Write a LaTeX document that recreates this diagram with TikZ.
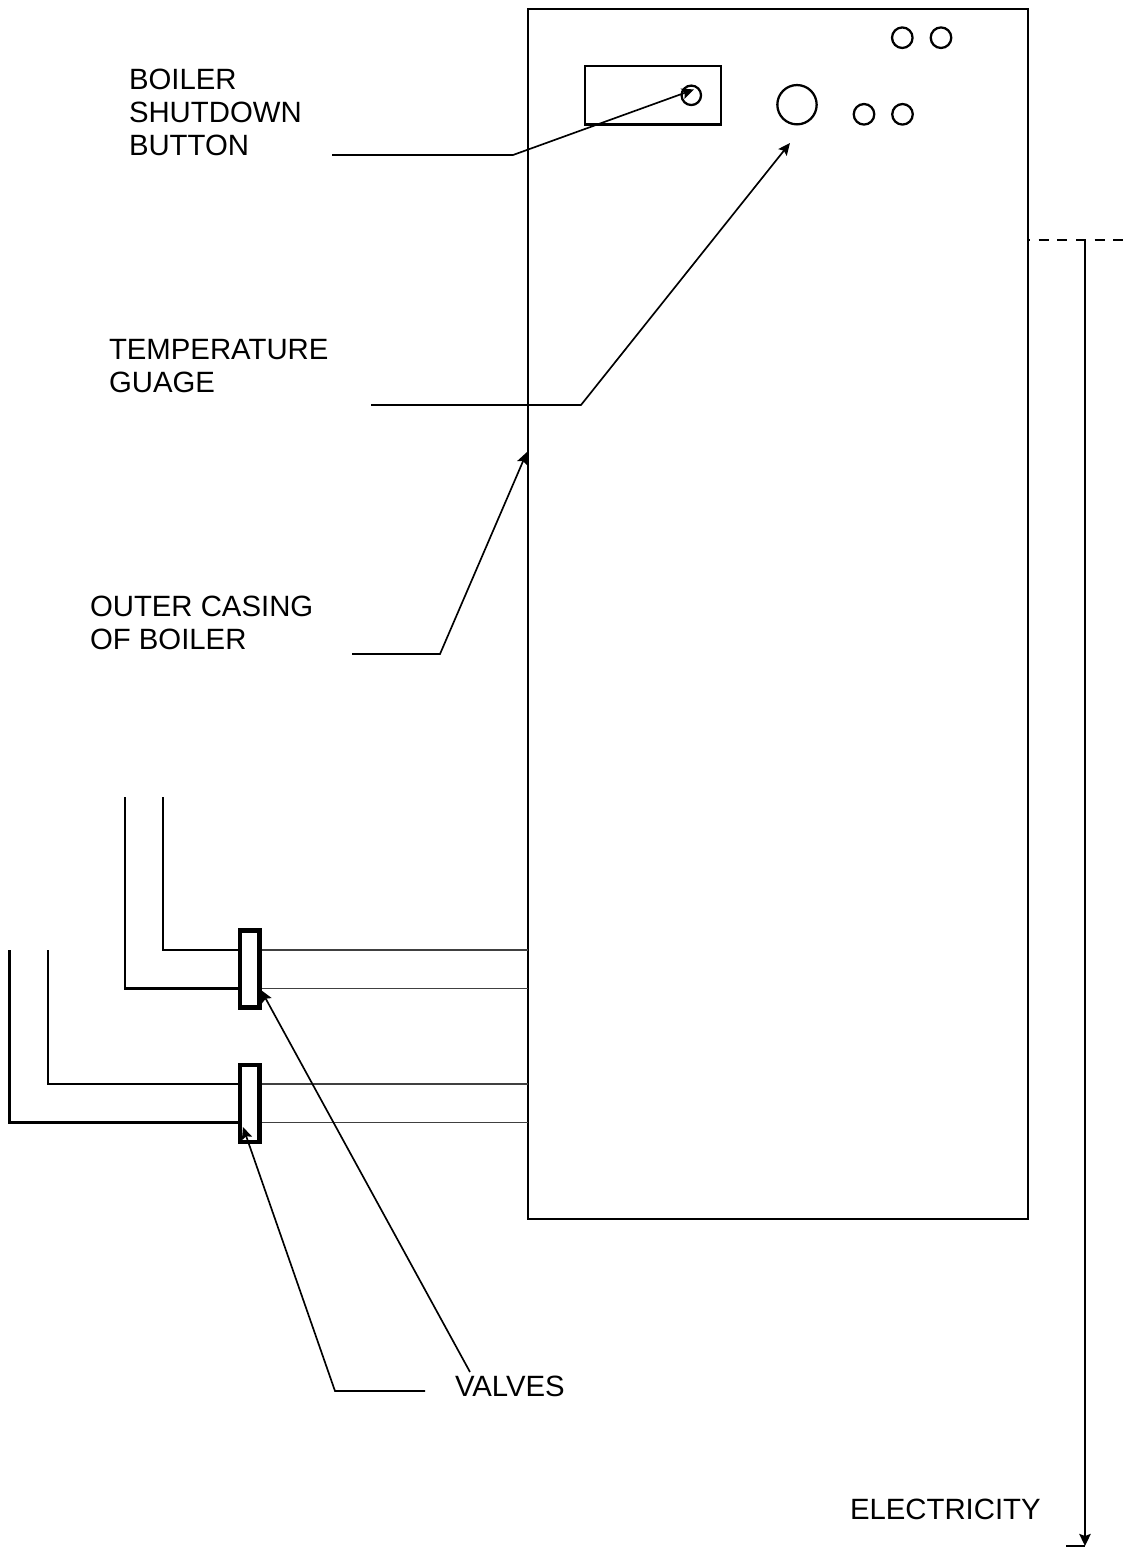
\documentclass[tikz,border=0pt]{standalone}
\usepackage{fontspec}
\setmainfont{Liberation Sans}
\usetikzlibrary{arrows.meta}
\tikzset{
  x=0.75pt,y=-0.75pt,
  boxline/.style={draw=black,line width=1.85pt,inner sep=0pt,outer sep=0pt},
  dial/.style={circle,draw=black,line width=1.7pt,inner sep=0pt,outer sep=0pt},
  valvebox/.style={draw=black,fill=white,line width=3.4pt,minimum width=14.6pt,minimum height=58pt,inner sep=0pt,outer sep=0pt},
  pipe/.style={draw=black,line width=1.8pt,line join=miter},
  thinpipe/.style={draw=black!75,line width=0.9pt},
  leader/.style={draw=black,line width=1.25pt,line join=miter,-{Stealth[length=9pt,width=8pt,inset=1.6pt]}},
  label/.style={anchor=north west,inner sep=0pt,outer sep=0pt,align=left,font=\fontsize{22}{24.8}\selectfont,text=black}
}
\begin{document}
\begin{tikzpicture}
\useasboundingbox (0,0) rectangle (1130,1547);
% main casing
\node[boxline,minimum width=375pt,minimum height=907.5pt] (casing) at (778,614) {};
% panel and dials
\node[boxline,minimum width=102pt,minimum height=43.9pt] (panel) at (653,95.2) {};
\node[dial,minimum size=14.6pt] (button) at (691.3,95.3) {};
\node[dial,minimum size=29.5pt] (gauge) at (797,104.7) {};
\node[dial,minimum size=15.4pt] (d1) at (902.3,37.7) {};
\node[dial,minimum size=15.4pt] (d2) at (941,37.7) {};
\node[dial,minimum size=15.4pt] (d3) at (864,114.3) {};
\node[dial,minimum size=15.4pt] (d4) at (902.5,114.3) {};
% labels
\node[label] (lboiler) at (129,69) {BOILER\\SHUTDOWN\\BUTTON};
\node[label] (ltemp) at (109,339.5) {TEMPERATURE\\GUAGE};
\node[label] (lcasing) at (90,596) {OUTER CASING\\OF BOILER};
\node[label] (lvalves) at (455,1375.5) {VALVES};
\node[label] (lelec) at (850,1499) {ELECTRICITY};
% pipe coordinates
\coordinate (p1t) at (163,797); \coordinate (p1c) at (163,950);
\coordinate (p2t) at (125,797); \coordinate (p2c) at (125,988.5);
\coordinate (p3t) at (48,950);  \coordinate (p3c) at (48,1084);
\coordinate (p4t) at (9.5,950); \coordinate (p4c) at (9.5,1122.5);
\coordinate (c1) at (528,950); \coordinate (c2) at (528,988.5);
\coordinate (c3) at (528,1084); \coordinate (c4) at (528,1122.5);
\coordinate (v1a) at (250,950); \coordinate (v1b) at (250,988.5);
\coordinate (v2a) at (250,1084); \coordinate (v2b) at (250,1122.5);
% pipes
\draw[pipe] (p1t) -- (p1c) -- (v1a);
\draw[pipe] (p2t) -- (p2c) -- (v1b);
\draw[pipe] (p3t) -- (p3c) -- (v2a);
\draw[pipe] (p4t) -- (p4c) -- (v2b);
\draw[thinpipe] (v1a) -- (c1);
\draw[thinpipe] (v1b) -- (c2);
\draw[thinpipe] (v2a) -- (c3);
\draw[thinpipe] (v2b) -- (c4);
% valves
\node[valvebox] (valve1) at (249.7,969) {};
\node[valvebox] (valve2) at (249.7,1103.5) {};
% leaders
\coordinate (a1) at (332,155); \coordinate (a1k) at (513,155); \coordinate (a1t) at (694,89.5);
\draw[leader] (a1) -- (a1k) -- (a1t);
\coordinate (a2) at (371,405); \coordinate (a2k) at (581,405); \coordinate (a2t) at (790,143);
\draw[leader] (a2) -- (a2k) -- (a2t);
\coordinate (a3) at (352,654); \coordinate (a3k) at (440,654); \coordinate (a3t) at (527,452);
\draw[leader] (a3) -- (a3k) -- (a3t);
\coordinate (a4) at (470,1372); \coordinate (a4t) at (261,990);
\draw[leader] (a4) -- (a4t);
\coordinate (a5) at (425,1391); \coordinate (a5k) at (335,1391); \coordinate (a5t) at (243,1127);
\draw[leader] (a5) -- (a5k) -- (a5t);
% electricity
\coordinate (e0) at (1028,240); \coordinate (e1) at (1124,240);
\coordinate (e2) at (1085,240); \coordinate (e3) at (1085,1546); \coordinate (e4) at (1066,1546);
\draw[draw=black,line width=1.8pt,dash pattern=on 7.5pt off 6.5pt,dash phase=6pt] (e0) -- (e1);
\draw[draw=black,line width=1.8pt,-{Stealth[length=9pt,width=8.5pt,inset=1.5pt]}] (e2) -- (e3);
\draw[draw=black,line width=1.8pt] (e4) -- (e3);
\end{tikzpicture}
\end{document}
